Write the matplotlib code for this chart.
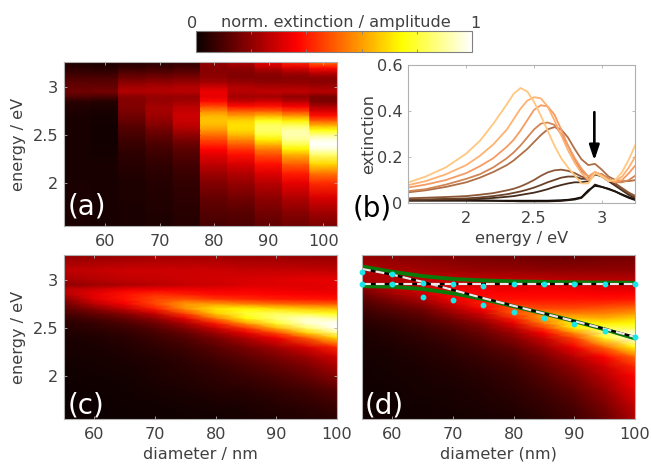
import numpy as np
import matplotlib
matplotlib.use('Agg')
import matplotlib.pyplot as plt
from matplotlib.cm import ScalarMappable
from matplotlib.colors import Normalize

plt.rcParams['font.family'] = 'DejaVu Sans'
TXT = '#404040'
EDGE = '#b0b0b0'
FS = 11.6

diameters = [55, 60, 65, 70, 75, 80, 85, 90, 95, 100]

# Panel (b): measured spectra
energy_b = [1.55, 1.7, 1.85, 2.0, 2.1, 2.2, 2.3, 2.35, 2.4, 2.45, 2.5, 2.55, 2.6, 2.65, 2.7, 2.75, 2.8, 2.85, 2.9, 2.95, 3.0, 3.05, 3.1, 3.15, 3.2, 3.25]
ext_55 = [.012,.012,.012,.012,.011,.01,.01,.01,.01,.01,.01,.01,.01,.011,.012,.014,.018,.025,.055,.075,.07,.062,.05,.037,.025,.015]
ext_60 = [.01,.01,.01,.01,.01,.01,.008,.008,.007,.007,.007,.007,.007,.008,.009,.012,.015,.022,.05,.08,.07,.06,.05,.035,.022,.012]
ext_65 = [.012,.013,.014,.015,.018,.022,.027,.03,.035,.04,.045,.052,.06,.07,.078,.085,.09,.09,.095,.125,.115,.095,.075,.055,.035,.02]
ext_70 = [.015,.016,.018,.02,.024,.03,.038,.044,.05,.058,.067,.078,.09,.10,.11,.115,.115,.105,.105,.125,.12,.10,.08,.06,.04,.025]
ext_75 = [.02,.023,.026,.03,.036,.043,.055,.062,.072,.085,.10,.118,.133,.142,.145,.14,.13,.115,.105,.13,.125,.105,.085,.065,.045,.03]
ext_80 = [.045,.055,.07,.09,.11,.135,.165,.185,.21,.235,.265,.295,.32,.33,.32,.285,.235,.19,.165,.17,.145,.115,.10,.095,.095,.10]
ext_85 = [.05,.06,.08,.105,.125,.155,.195,.22,.25,.285,.32,.345,.35,.34,.30,.25,.19,.14,.115,.13,.125,.105,.09,.09,.10,.12]
ext_90 = [.065,.08,.10,.13,.16,.195,.245,.275,.315,.36,.405,.425,.42,.385,.32,.25,.195,.15,.115,.135,.12,.10,.09,.10,.13,.165]
ext_95 = [.075,.095,.125,.165,.205,.255,.32,.365,.41,.445,.46,.455,.42,.36,.295,.23,.175,.13,.10,.135,.12,.10,.095,.115,.155,.205]
ext_100 = [.085,.115,.155,.215,.27,.345,.43,.475,.50,.485,.44,.38,.315,.25,.195,.155,.12,.085,.085,.13,.115,.095,.10,.135,.19,.255]
spectra = [ext_55, ext_60, ext_65, ext_70, ext_75, ext_80, ext_85, ext_90, ext_95, ext_100]

# Panels (c), (d): model maps, one column per diameter
energy_map = [1.55, 1.7, 1.85, 2.0, 2.1, 2.2, 2.3, 2.4, 2.45, 2.5, 2.55, 2.6, 2.65, 2.7, 2.75, 2.8, 2.85, 2.9, 2.95, 3.0, 3.1, 3.26]
c55 = [.005,.005,.007,.01,.013,.016,.02,.027,.032,.04,.05,.065,.09,.12,.15,.19,.25,.27,.20,.23,.27,.2]
c60 = [.006,.007,.01,.013,.016,.02,.027,.035,.045,.055,.07,.095,.135,.19,.26,.32,.33,.30,.22,.25,.28,.2]
c65 = [.007,.01,.013,.018,.022,.028,.037,.05,.06,.075,.10,.135,.19,.27,.35,.39,.39,.34,.24,.27,.29,.21]
c70 = [.01,.013,.02,.028,.034,.042,.055,.075,.09,.115,.15,.20,.28,.40,.47,.47,.43,.35,.26,.28,.29,.22]
c75 = [.012,.018,.03,.04,.05,.06,.08,.11,.14,.18,.24,.33,.46,.58,.60,.49,.41,.35,.28,.29,.29,.22]
c80 = [.015,.025,.04,.055,.07,.09,.12,.17,.22,.29,.40,.54,.67,.71,.60,.45,.38,.34,.29,.30,.29,.22]
c85 = [.02,.03,.05,.075,.095,.125,.17,.25,.33,.44,.60,.74,.80,.74,.56,.43,.38,.35,.31,.31,.28,.21]
c90 = [.028,.04,.065,.10,.13,.17,.23,.35,.47,.64,.79,.87,.84,.70,.53,.41,.37,.34,.32,.32,.28,.21]
c95 = [.036,.055,.085,.135,.17,.22,.31,.50,.68,.85,.95,.95,.81,.67,.51,.40,.36,.33,.32,.33,.28,.2]
c100 = [.05,.075,.12,.19,.24,.30,.42,.70,.88,1.0,1.0,.90,.77,.65,.50,.39,.35,.33,.33,.33,.27,.2]
map_c = [c55, c60, c65, c70, c75, c80, c85, c90, c95, c100]

d55 = [.008,.009,.01,.012,.014,.016,.02,.025,.03,.035,.045,.055,.07,.085,.10,.12,.15,.18,.22,.24,.25,.2]
d60 = [.01,.012,.014,.018,.022,.027,.03,.04,.047,.055,.065,.08,.10,.12,.15,.18,.22,.25,.26,.25,.24,.19]
d65 = [.012,.015,.02,.025,.03,.037,.045,.06,.07,.08,.095,.11,.13,.16,.20,.24,.28,.31,.29,.27,.23,.18]
d70 = [.015,.02,.027,.035,.042,.052,.065,.085,.10,.115,.14,.17,.21,.25,.30,.35,.37,.35,.31,.28,.22,.17]
d75 = [.022,.028,.038,.05,.06,.075,.095,.125,.145,.17,.20,.25,.30,.36,.41,.39,.37,.35,.31,.27,.21,.16]
d80 = [.03,.04,.055,.07,.085,.105,.14,.19,.22,.27,.33,.41,.49,.50,.44,.39,.37,.34,.31,.27,.21,.15]
d85 = [.05,.065,.085,.11,.135,.17,.22,.30,.36,.45,.55,.62,.58,.48,.43,.39,.37,.35,.31,.27,.20,.14]
d90 = [.08,.10,.13,.17,.205,.26,.35,.47,.58,.72,.76,.65,.56,.48,.43,.39,.37,.34,.30,.26,.20,.14]
d95 = [.14,.17,.21,.26,.30,.37,.52,.78,.87,.83,.72,.63,.56,.50,.44,.39,.36,.33,.30,.26,.20,.15]
d100 = [.24,.28,.33,.37,.42,.52,.75,1.0,.95,.82,.74,.68,.60,.53,.46,.40,.37,.33,.28,.26,.20,.16]
map_d = [d55, d60, d65, d70, d75, d80, d85, d90, d95, d100]

# Panel (d): overlays
upper_green = [3.14, 3.085, 3.04, 3.01, 2.995, 2.985, 2.98, 2.975, 2.972, 2.97]
lower_green = [2.935, 2.93, 2.905, 2.86, 2.80, 2.725, 2.65, 2.57, 2.485, 2.39]
mode_diag = [3.115, 3.055, 2.98, 2.895, 2.81, 2.73, 2.65, 2.57, 2.49, 2.405]
mode_flat = [2.96] * 10
dots_upper = [3.08, 3.065, 2.965, 2.96, 2.94, 2.96, 2.96, 2.96, 2.96, 2.96]
dots_lower = [2.96, 2.96, 2.825, 2.79, 2.74, 2.67, 2.60, 2.54, 2.47, 2.40]

W, H = 651, 465
fig = plt.figure(figsize=(W / 100, H / 100), dpi=100)


def box(x0, y0, x1, y1):
    return fig.add_axes([x0 / W, 1 - y1 / H, (x1 - x0) / W, (y1 - y0) / H])


def style(ax):
    for s in ax.spines.values():
        s.set_color(EDGE)
        s.set_linewidth(0.8)
    ax.tick_params(direction='in', length=2, width=0.6, color=EDGE, labelcolor=TXT,
                   labelsize=FS, top=True, right=True)
    ax.tick_params(axis='x', pad=6)
    ax.tick_params(axis='y', pad=4)


ax_a = box(64, 62, 337, 226)
ax_b = box(408, 65, 635, 203)
ax_c = box(64, 255, 337, 419)
ax_d = box(362, 255, 635, 419)
cax = box(196, 31, 472, 52)

# (a): one flat-in-x column per diameter, smooth in energy
norm_spectra = np.array(spectra) / 0.5
x_edges = np.repeat(np.array(diameters, float), 2) + np.tile([-2.5, 2.5], 10)
C_a = np.repeat(norm_spectra, 2, axis=0).T
ax_a.pcolormesh(x_edges, energy_b, C_a, shading='gouraud', cmap='hot', vmin=0, vmax=1)
ax_a.set_xlim(52.5, 102.5)
ax_a.set_ylim(1.55, 3.26)
ax_a.set_xticks([60, 70, 80, 90, 100])
ax_a.set_yticks([2, 2.5, 3], ['2', '2.5', '3'])
ax_a.set_ylabel('energy / eV', fontsize=FS, color=TXT)
ax_a.yaxis.set_label_coords(-0.139, 0.5)
ax_a.text(0.015, 0.035, '(a)', transform=ax_a.transAxes, color='white', fontsize=20, va='bottom')
style(ax_a)

# (b)
copper = plt.get_cmap('copper')
for i, ys in enumerate(spectra):
    ax_b.plot(energy_b, ys, color=copper(i / 9), lw=1.3)
ax_b.set_xlim(1.57, 3.245)
ax_b.set_ylim(0, 0.6)
ax_b.set_xticks([2, 2.5, 3], ['2', '2.5', '3'])
ax_b.set_yticks([0, 0.2, 0.4, 0.6], ['0', '0.2', '0.4', '0.6'])
ax_b.set_xlabel('energy / eV', fontsize=FS, color=TXT, labelpad=3)
ax_b.set_ylabel('extinction', fontsize=FS, color=TXT)
ax_b.yaxis.set_label_coords(-0.141, 0.5)
ax_b.annotate('', xy=(2.945, 0.185), xytext=(2.945, 0.395),
              arrowprops=dict(arrowstyle='-|>,head_width=0.3,head_length=0.9', color='black', lw=1.9,
                              shrinkA=0, shrinkB=0))
ax_b.text(-0.245, -0.14, '(b)', transform=ax_b.transAxes, color='black', fontsize=20, va='bottom')
style(ax_b)

# (c)
ax_c.pcolormesh(diameters, energy_map, np.array(map_c).T, shading='gouraud', cmap='hot', vmin=0, vmax=1)
ax_c.set_xlim(55, 100)
ax_c.set_ylim(1.55, 3.26)
ax_c.set_xticks([60, 70, 80, 90, 100])
ax_c.set_yticks([2, 2.5, 3], ['2', '2.5', '3'])
ax_c.set_xlabel('diameter / nm', fontsize=FS, color=TXT, labelpad=3)
ax_c.set_ylabel('energy / eV', fontsize=FS, color=TXT)
ax_c.yaxis.set_label_coords(-0.139, 0.5)
ax_c.text(0.015, 0.0, '(c)', transform=ax_c.transAxes, color='white', fontsize=20, va='bottom')
style(ax_c)

# (d)
ax_d.pcolormesh(diameters, energy_map, np.array(map_d).T, shading='gouraud', cmap='hot', vmin=0, vmax=1)
ax_d.plot(diameters, upper_green, color='#0a7a0a', lw=2.8)
ax_d.plot(diameters, lower_green, color='#0a7a0a', lw=2.8)
for ys in (mode_diag, mode_flat):
    ax_d.plot(diameters, ys, color='black', lw=1.6)
    ax_d.plot(diameters, ys, color='#f4e6e6', lw=1.6, dashes=(4, 2.2))
ax_d.plot(diameters, dots_upper, 'o', color='#19e6e6', ms=3.2, clip_on=False, zorder=5)
ax_d.plot(diameters, dots_lower, 'o', color='#19e6e6', ms=3.2, clip_on=False, zorder=5)
ax_d.set_xlim(55, 100)
ax_d.set_ylim(1.55, 3.26)
ax_d.set_xticks([60, 70, 80, 90, 100])
ax_d.set_yticks([])
ax_d.set_xlabel('diameter (nm)', fontsize=FS, color=TXT, labelpad=3)
ax_d.text(0.01, 0.0, '(d)', transform=ax_d.transAxes, color='white', fontsize=20, va='bottom')
style(ax_d)

# Colour bar
cb = fig.colorbar(ScalarMappable(Normalize(0, 1), 'hot'), cax=cax, orientation='horizontal')
cb.set_ticks([0, 0.2, 0.4, 0.6, 0.8, 1], labels=[])
cb.ax.tick_params(direction='in', length=2, width=0.6, color='#808080', top=True)
cb.outline.set_edgecolor('#808080')
cb.outline.set_linewidth(0.8)
fig.text(192 / W, 1 - 23 / H, '0', color=TXT, fontsize=FS, ha='center', va='center')
fig.text(336 / W, 1 - 23 / H, 'norm. extinction / amplitude', color=TXT, fontsize=FS, ha='center', va='center')
fig.text(475 / W, 1 - 23 / H, '1', color=TXT, fontsize=FS, ha='center', va='center')

fig.savefig('out.png', dpi=100)
